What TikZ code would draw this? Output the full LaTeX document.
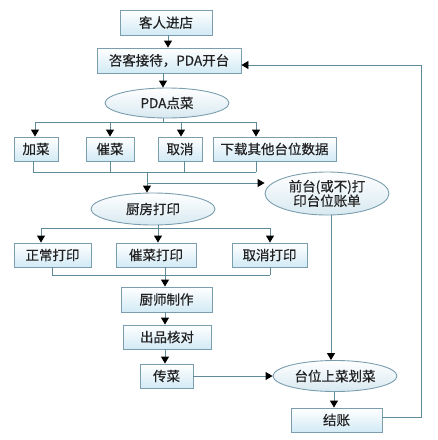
\documentclass[tikz,border=0pt]{standalone}
\usepackage{fontspec}
\newfontfamily\cjk[FakeBold=0.4]{Noto Sans CJK SC}
\usetikzlibrary{arrows.meta,shapes.geometric}
\definecolor{lineblue}{HTML}{5E8A99}
\definecolor{boxedge}{HTML}{7A9EAE}
\definecolor{boxbot}{HTML}{D2EAF5}
\definecolor{ellbot}{HTML}{D8E9F1}
\definecolor{txt}{HTML}{222222}
\begin{document}
\begin{tikzpicture}[x=1pt,y=-1pt,
  font=\cjk\fontsize{13.5}{15}\selectfont, text=txt,
  box/.style={draw=boxedge, line width=0.9pt, top color=white, bottom color=boxbot,
    inner sep=0pt, minimum height=24pt},
  ell/.style={ellipse, draw=boxedge, line width=0.9pt, top color=white, bottom color=ellbot,
    inner sep=0pt},
  conn/.style={draw=lineblue, line width=0.9pt},
  arr/.style={conn, -{Triangle[color=black,length=7pt,width=8pt]}}
]
\useasboundingbox (0,0) rectangle (438,440);
% nodes
\node[box, minimum width=92pt, minimum height=25pt] (a) at (166,22.5) {客人进店};
\node[box, minimum width=144pt, minimum height=25pt] (b) at (169,60.5) {咨客接待，PDA开台};
\node[ell, minimum width=124pt, minimum height=30pt] (c) at (167,103) {PDA点菜};
\node[box, minimum width=44pt] (d1) at (36,149) {加菜};
\node[box, minimum width=48pt] (d2) at (110,149) {催菜};
\node[box, minimum width=44pt] (d3) at (180,149) {取消};
\node[box, minimum width=123pt] (d4) at (274.5,149) {下载其他台位数据};
\node[ell, minimum width=124pt, minimum height=43pt, align=center,
  font=\cjk\fontsize{13.5}{14.5}\selectfont] (e) at (327,193.5) {前台(或不)打\\印台位账单};
\node[ell, minimum width=124pt, minimum height=32pt] (f) at (153,209) {厨房打印};
\node[box, minimum width=77pt] (g1) at (52.5,255) {正常打印};
\node[box, minimum width=80pt] (g2) at (156,255) {催菜打印};
\node[box, minimum width=75pt] (g3) at (269.5,255) {取消打印};
\node[box, minimum width=91pt, minimum height=25pt] (h) at (166.5,299.5) {厨师制作};
\node[box, minimum width=88pt] (i) at (167,337) {出品核对};
\node[box, minimum width=53pt] (j) at (166.5,376) {传菜};
\node[ell, minimum width=124pt, minimum height=31pt] (k) at (335,376) {台位上菜划菜};
\node[box, minimum width=91pt] (l) at (336.5,420) {结账};
% junction coordinates
\coordinate (cbar) at (163,122);
\coordinate (dbar) at (147,172);
\coordinate (ebr) at (147,183);
\coordinate (fbar) at (158,228);
\coordinate (gbar) at (165,275);
\coordinate (rt) at (421,417);
\coordinate (rtop) at (421,65);
% connectors
\draw[arr] (a.south -| 168,0) -- (b.north -| 168,0);
\draw[arr] (b.south -| 163,0) -- (c.north -| 163,0);
\draw[conn] (c.south -| 163,0) -- (cbar);
\draw[conn] (cbar -| 35,0) -- (cbar -| 256,0);
\draw[arr] (cbar -| 35,0) -- (d1.north -| 35,0);
\draw[arr] (cbar -| 110,0) -- (d2.north -| 110,0);
\draw[arr] (cbar -| 181,0) -- (d3.north -| 181,0);
\draw[arr] (cbar -| 256,0) -- (d4.north -| 256,0);
\draw[conn] (d1.south -| 33,0) -- (dbar -| 33,0);
\draw[conn] (d2.south -| 110,0) -- (dbar -| 110,0);
\draw[conn] (d3.south -| 184,0) -- (dbar -| 184,0);
\draw[conn] (d4.south -| 256,0) -- (dbar -| 256,0);
\draw[conn] (dbar -| 33,0) -- (dbar -| 256,0);
\draw[arr] (dbar) -- (f.north -| dbar);
\draw[arr] (ebr) -- (e.west |- ebr);
\draw[conn] (f.south -| fbar) -- (fbar);
\draw[conn] (fbar -| 41,0) -- (fbar -| 270,0);
\draw[arr] (fbar -| 41,0) -- (g1.north -| 41,0);
\draw[arr] (fbar) -- (g2.north -| fbar);
\draw[arr] (fbar -| 270,0) -- (g3.north -| 270,0);
\draw[conn] (g1.south -| 52,0) -- (gbar -| 52,0);
\draw[conn] (g2.south -| gbar) -- (gbar);
\draw[conn] (g3.south -| 270,0) -- (gbar -| 270,0);
\draw[conn] (gbar -| 52,0) -- (gbar -| 270,0);
\draw[arr] (gbar) -- (h.north -| gbar);
\draw[arr] (h.south -| gbar) -- (i.north -| gbar);
\draw[arr] (i.south -| gbar) -- (j.north -| gbar);
\draw[arr] (j.east) -- (k.west);
\draw[arr] (e.south -| 331,0) -- (k.north -| 331,0);
\draw[arr] (k.south -| 334,0) -- (l.north -| 334,0);
\draw[arr] (l.east |- rt) -- (rt) -- (rtop) -- (b.east |- rtop);
\end{tikzpicture}
\end{document}
